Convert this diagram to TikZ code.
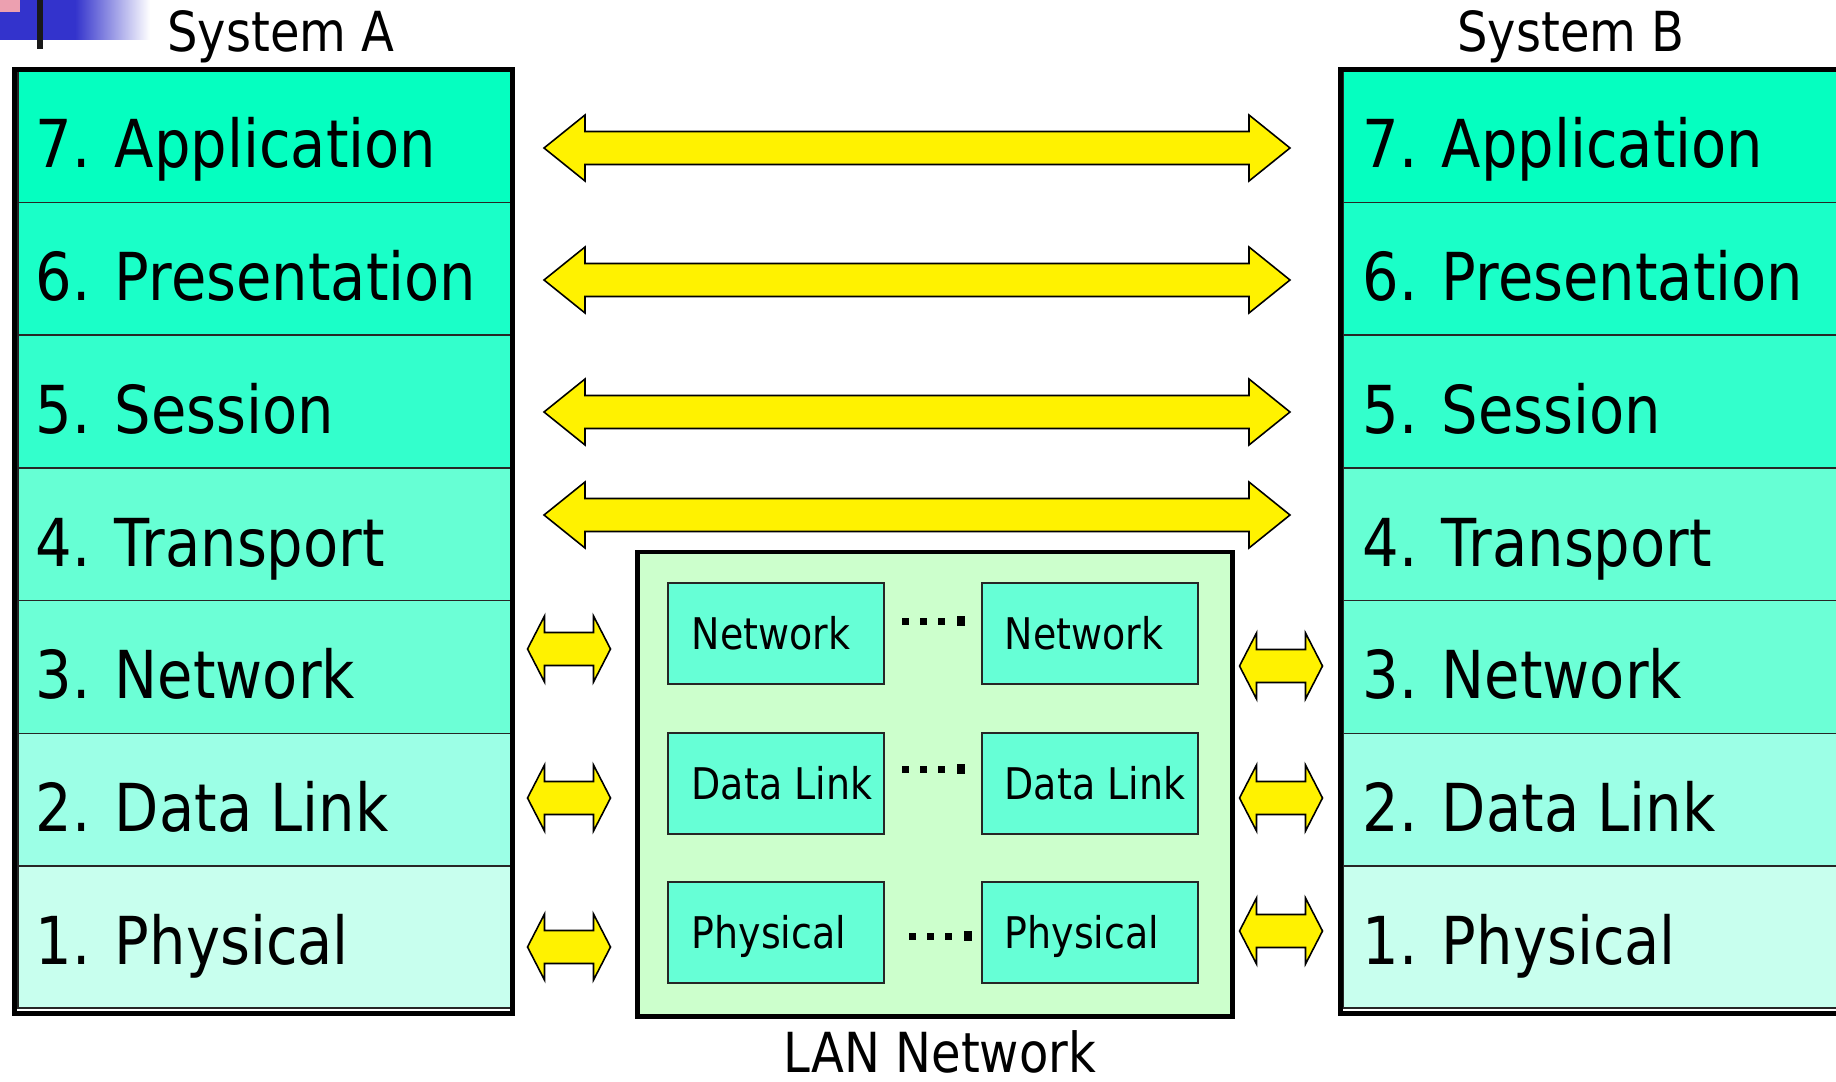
\documentclass[tikz,border=0pt]{standalone}
\usepackage{fontspec}
\setmainfont[FakeStretch=0.87]{DejaVu Sans}
\usepackage{xcolor}
\usepackage{tikz}
\usetikzlibrary{calc}

\definecolor{lay7}{RGB}{5,255,192}
\definecolor{lay6}{RGB}{26,255,200}
\definecolor{lay5}{RGB}{51,255,204}
\definecolor{lay4}{RGB}{102,255,212}
\definecolor{lay3}{RGB}{108,255,214}
\definecolor{lay2}{RGB}{156,255,230}
\definecolor{lay1}{RGB}{200,255,238}
\definecolor{lanbg}{RGB}{204,255,204}
\definecolor{lanfill}{RGB}{102,255,214}
\definecolor{slideblue}{RGB}{51,51,204}
\definecolor{slidepink}{RGB}{236,160,176}

% double block arrow from #1 to #2, head length #3
\newcommand{\dblarrow}[3]{%
  \draw[blockarrow] (#1) -- ++(#3,-33) -- ++(0,16.5) -- ($(#2)+(-#3,-16.5)$)
    -- ++(0,-16.5) -- (#2) -- ++(-#3,33) -- ++(0,-16.5) -- ($(#1)+(#3,16.5)$)
    -- ++(0,16.5) -- cycle;}

\begin{document}
\begin{tikzpicture}[x=0.01cm, y=-0.01cm,
    layer/.style={draw=black!85, line width=0.45pt, inner sep=0pt, anchor=north west},
    layertext/.style={anchor=base west, inner sep=0pt, font=\fontsize{18.8}{22}\selectfont},
    title/.style={anchor=base, inner sep=0pt, font=\fontsize{15.7}{18}\selectfont},
    lanbox/.style={draw=black!85, fill=lanfill, line width=0.45pt, inner sep=0pt,
      minimum width=2.16cm, minimum height=1.01cm, anchor=north west},
    lantext/.style={anchor=base west, inner sep=0pt, font=\fontsize{12.4}{15}\selectfont},
    stackborder/.style={draw=black, line width=1.42pt},
    blockarrow/.style={draw=black, fill=yellow, line width=0.45pt, line join=miter}]
    \useasboundingbox (0,0) rectangle (1836,1082);

    % slide corner
    \fill[slideblue] (0,0) rectangle (75,40);
    \shade[left color=slideblue, right color=white] (75,0) rectangle (150,40);
    \fill[slidepink] (0,0) rectangle (20,12);
    \fill[black!90] (37,0) rectangle (43,49);

    \node[title] (sysA) at (281,52) {System A};
    \node[title] (sysB) at (1571,52) {System B};

    % the two stacks
    \foreach \n/\name/\h [count=\i from 0] in {7/Application/1.327, 6/Presentation/1.327,
        5/Session/1.327, 4/Transport/1.327, 3/Network/1.327, 2/Data Link/1.327, 1/Physical/1.418} {
        \node[layer, fill=lay\n, minimum width=4.93cm, minimum height=\h cm] (A\n) at (17,{69+132.7*\i}) {};
        \node[layertext] (At\n) at ($(A\n.north west)+(18,99)$) {\n. \name};
        \node[layer, fill=lay\n, minimum width=5.2cm, minimum height=\h cm] (B\n) at (1342,{69+132.7*\i}) {};
        \node[layertext] (Bt\n) at ($(B\n.north west)+(20,99)$) {\n. \name};
    }
    \draw[stackborder] (14.5,69.5) rectangle (512.5,1013.5);
    \draw[stackborder] (1340,69.5) rectangle (1880,1013.5);

    % LAN
    \node[draw=black, fill=lanbg, line width=1.42pt, inner sep=0pt, anchor=north west,
      minimum width=5.95cm, minimum height=4.645cm] (lan) at (635,549.5) {};
    \node[title] (lanname) at (940,1072) {LAN Network};

    \foreach \row/\y/\txt in {net/582/Network, dl/732/Data Link, ph/881/Physical} {
        \node[lanbox] (\row L) at (667,\y) {};
        \node[lantext] (\row Lt) at ($(\row L.north west)+(24,67)$) {\txt};
        \node[lanbox] (\row R) at (981,\y) {};
        \node[lantext] (\row Rt) at ($(\row R.north west)+(23,67)$) {\txt};
    }

    % dots between the LAN boxes
    \foreach \x/\y in {902/621.5, 902/769.5, 909/936.5} {
        \foreach \d in {0,18,36}
            \fill ({\x+\d},{\y-3.5}) rectangle ++(7,7);
        \fill ({\x+55},{\y-5.5}) rectangle ++(8,10);
    }

    % peer arrows
    \foreach \n/\y in {7/148, 6/280, 5/412, 4/515} {
        \coordinate (p\n w) at (544,\y);
        \coordinate (p\n e) at (1290,\y);
        \dblarrow{p\n w}{p\n e}{41}
    }

    % stack to LAN arrows
    \foreach \row/\yl/\yr in {net/649/666, dl/798/798, ph/947/931} {
        \coordinate (\row aw) at (527.5,\yl);
        \coordinate (\row ae) at (610.5,\yl);
        \dblarrow{\row aw}{\row ae}{17}
        \coordinate (\row bw) at (1239.5,\yr);
        \coordinate (\row be) at (1322.5,\yr);
        \dblarrow{\row bw}{\row be}{17}
    }
\end{tikzpicture}
\end{document}
